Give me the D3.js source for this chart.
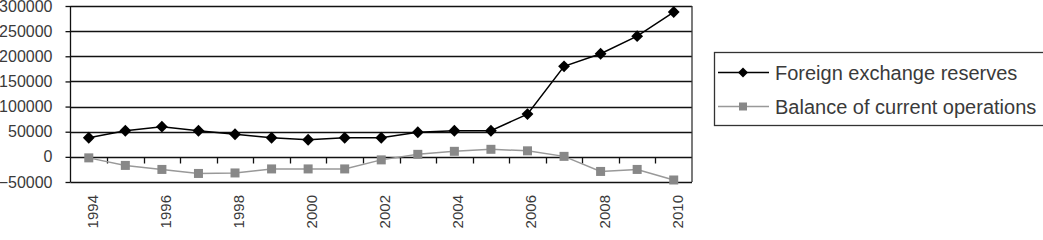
<!DOCTYPE html>
<html>
<head>
<meta charset="utf-8">
<script src="https://cdn.jsdelivr.net/npm/d3@7"></script>
<style>
body { margin: 0; background: #fff; }
text { font-family: "Liberation Sans", Arial, sans-serif; fill: #3a3a3a; }
</style>
</head>
<body>
<div id="chart"></div>
<script>
// data
const years = [1994, 1995, 1996, 1997, 1998, 1999, 2000, 2001, 2002, 2003, 2004, 2005, 2006, 2007, 2008, 2009, 2010];
const reserves = [38000, 52000, 60000, 52000, 45000, 38000, 34000, 38000, 38000, 49000, 52000, 52000, 85000, 180000, 205000, 240000, 288000];
const balance = [-2000, -17000, -25000, -33000, -32000, -24000, -24000, -24000, -6000, 5000, 11000, 15000, 12000, 1000, -29000, -25000, -46000];
const yTicks = [-50000, 0, 50000, 100000, 150000, 200000, 250000, 300000];
const xLabels = [1994, 1996, 1998, 2000, 2002, 2004, 2006, 2008, 2010];
const seriesNames = ["Foreign exchange reserves", "Balance of current operations"];

const svg = d3.select("#chart")
    .append("svg")
    .attr("width", 1043)
    .attr("height", 240);

const x = d3.scaleBand()
    .domain(years)
    .range([70.5, 692])
    .padding(0);

const y = d3.scaleLinear()
    .domain([-50000, 300000])
    .range([182, 6]);

// gridlines
svg.append("g")
    .selectAll("line")
    .data(yTicks)
    .enter()
    .append("line")
    .attr("x1", 70.5)
    .attr("x2", 692)
    .attr("y1", (d) => Math.round(y(d)) + 0.5)
    .attr("y2", (d) => Math.round(y(d)) + 0.5)
    .attr("stroke", "#111")
    .attr("stroke-width", 1.3);

// right border
svg.append("line")
    .attr("x1", 692).attr("x2", 692)
    .attr("y1", y(300000)).attr("y2", y(-50000))
    .attr("stroke", "#333")
    .attr("stroke-width", 1.3);

// y axis
const yAxis = svg.append("g")
    .attr("transform", "translate(70.5,0)")
    .call(d3.axisLeft(y)
        .tickValues(yTicks)
        .tickSize(5)
        .tickPadding(13)
        .tickFormat(d3.format("d")));
yAxis.selectAll("text")
    .attr("font-size", 16)
    .attr("font-family", "Liberation Sans, Arial, sans-serif")
    .style("fill", "#3a3a3a");
yAxis.selectAll("line,path").attr("stroke", "#111").attr("stroke-width", 1.3);
yAxis.select(".domain").attr("d", "M0," + y(300000) + "V" + y(-50000));

// x axis on the zero line, ticks between categories
const zeroY = Math.round(y(0)) + 0.5;
svg.append("g")
    .selectAll("line")
    .data(years.slice(1))
    .enter()
    .append("line")
    .attr("x1", (d) => Math.round(x(d)) + 0.5)
    .attr("x2", (d) => Math.round(x(d)) + 0.5)
    .attr("y1", zeroY)
    .attr("y2", zeroY + 6)
    .attr("stroke", "#111")
    .attr("stroke-width", 1.3);

// x labels, rotated
svg.append("g")
    .selectAll("text")
    .data(xLabels)
    .enter()
    .append("text")
    .attr("transform", (d) => "translate(" + (x(d) + x.bandwidth() / 2 + 9) + ",195) rotate(-90)")
    .attr("text-anchor", "end")
    .attr("font-size", 15)
    .text((d) => d);

const line = d3.line()
    .x((d, i) => x(years[i]) + x.bandwidth() / 2)
    .y((d) => y(d));

// balance of current operations
svg.append("path")
    .datum(balance)
    .attr("d", line)
    .attr("fill", "none")
    .attr("stroke", "#999")
    .attr("stroke-width", 1.5);

svg.append("g")
    .selectAll("rect")
    .data(balance)
    .enter()
    .append("rect")
    .attr("x", (d, i) => x(years[i]) + x.bandwidth() / 2 - 4.5)
    .attr("y", (d) => y(d) - 4.5)
    .attr("width", 9)
    .attr("height", 9)
    .attr("fill", "#888");

// foreign exchange reserves
svg.append("path")
    .datum(reserves)
    .attr("d", line)
    .attr("fill", "none")
    .attr("stroke", "#000")
    .attr("stroke-width", 1.5);

const diamond = d3.symbol().type(d3.symbolSquare).size(70);
svg.append("g")
    .selectAll("path")
    .data(reserves)
    .enter()
    .append("path")
    .attr("d", diamond)
    .attr("transform", (d, i) => "translate(" + (x(years[i]) + x.bandwidth() / 2) + "," + y(d) + ") rotate(45)")
    .attr("fill", "#000");

// legend
const legend = svg.append("g");
legend.append("rect")
    .attr("x", 714.5)
    .attr("y", 52.5)
    .attr("width", 340)
    .attr("height", 73)
    .attr("fill", "none")
    .attr("stroke", "#333")
    .attr("stroke-width", 1.3);

const legendRows = legend.selectAll("g")
    .data(seriesNames)
    .enter()
    .append("g")
    .attr("transform", (d, i) => "translate(0," + (72.5 + i * 34) + ")");

legendRows.append("line")
    .attr("x1", 718)
    .attr("x2", 769)
    .attr("y1", 0)
    .attr("y2", 0)
    .attr("stroke", (d, i) => i === 0 ? "#000" : "#999")
    .attr("stroke-width", 1.5);

legendRows.filter((d, i) => i === 0)
    .append("path")
    .attr("d", d3.symbol().type(d3.symbolSquare).size(50))
    .attr("transform", "translate(743,0) rotate(45)")
    .attr("fill", "#000");

legendRows.filter((d, i) => i === 1)
    .append("rect")
    .attr("x", 739)
    .attr("y", -4)
    .attr("width", 8)
    .attr("height", 8)
    .attr("fill", "#888");

legendRows.append("text")
    .attr("x", 775)
    .attr("dy", "0.35em")
    .attr("font-size", 20)
    .text((d) => d);
</script>
</body>
</html>
